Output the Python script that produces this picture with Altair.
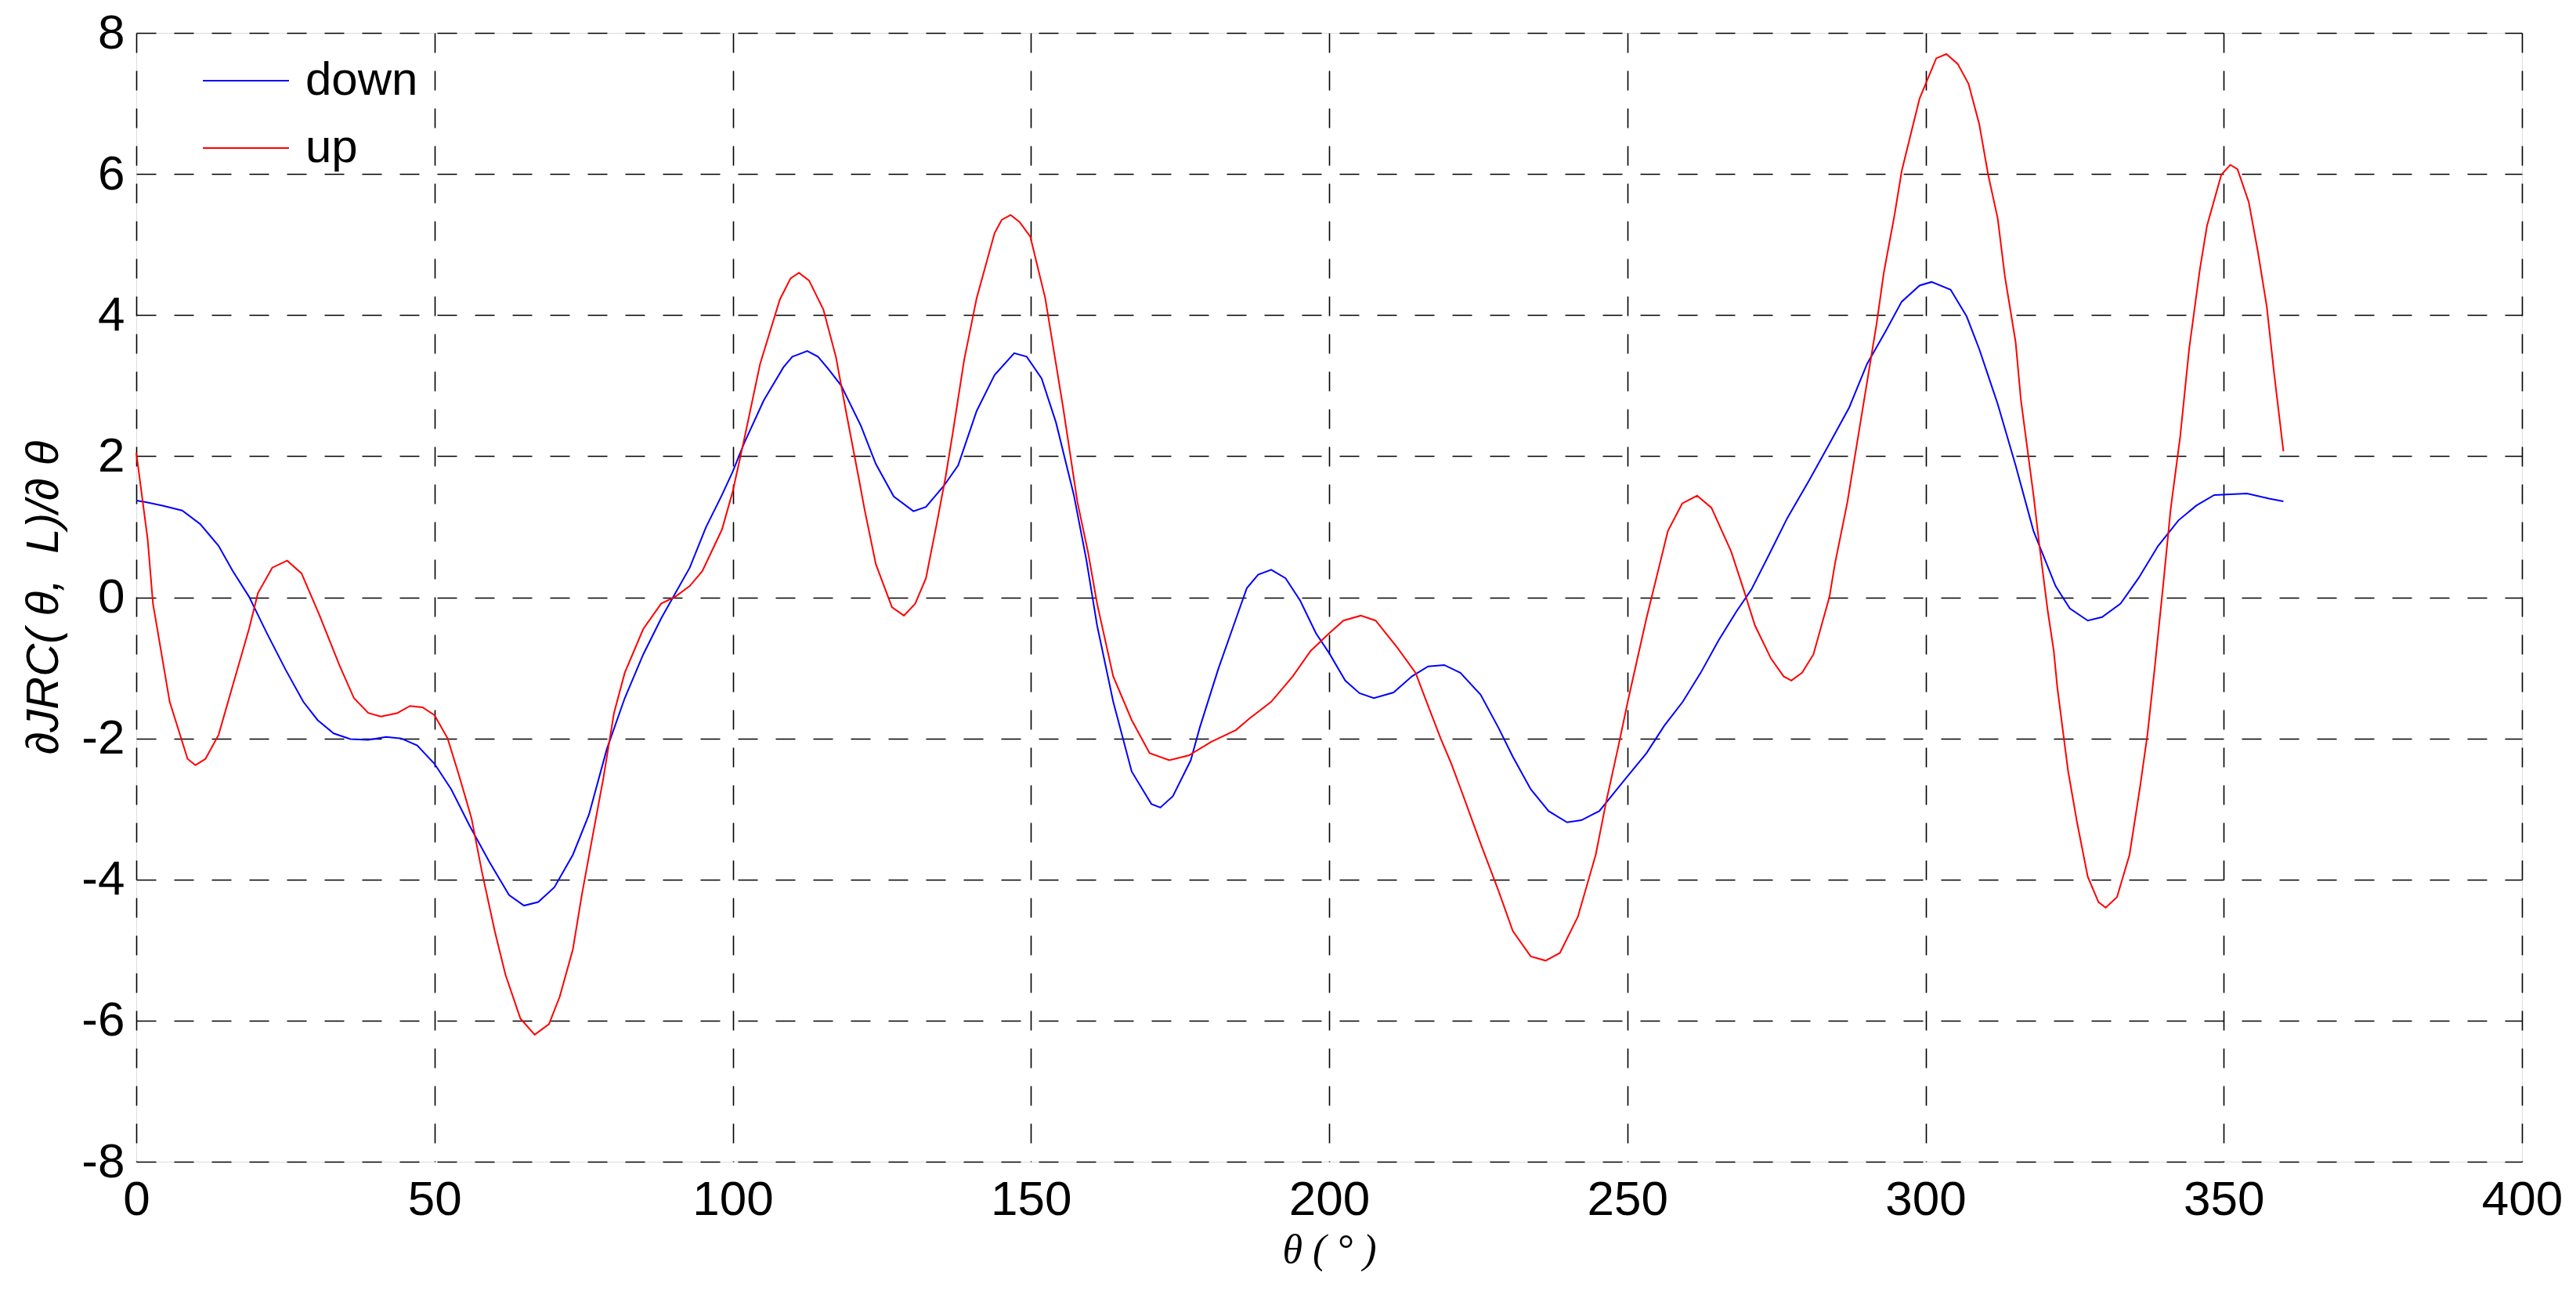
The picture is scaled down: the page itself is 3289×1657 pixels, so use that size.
import altair as alt
import pandas as pd

# ---- data ----
down_theta = [0, 1.6, 4.4, 7.7, 10.7, 13.8, 16.2, 18.9, 21.9, 25, 28, 30.4, 33.1, 35.9, 38.9, 41.9, 44.4,
              47.1, 50, 52.8, 55.9, 59.2, 62.5, 65, 67.4, 70.1, 73.2, 75.9, 78.9, 81.9, 85, 88, 90.4, 92.8,
              95.5, 98.2, 100, 101.9, 105.2, 108.5, 110, 112.5, 114.3, 116.1, 118.2, 121.5, 124, 127,
              130.3, 132.4, 135.4, 137.8, 140.9, 143.9, 147.2, 149.3, 151.8, 154.2, 157.2, 159.3, 161.1,
              163.8, 166.9, 170.2, 171.7, 173.8, 176.8, 178.3, 181.4, 184.4, 186.2, 188.1, 190.3, 192.7,
              195.1, 197.8, 200, 202.7, 205.1, 207.5, 210.8, 213.9, 216.6, 219.3, 222, 225.4, 228.4,
              230.8, 233.8, 236.8, 239.9, 242.3, 245.3, 247.8, 250.2, 253.2, 256.2, 259.3, 262.3, 265.3,
              268.3, 270.8, 273.8, 276.8, 280.5, 283.9, 287.2, 290.2, 293.3, 296, 299, 301, 304.2, 306.9,
              309, 312.1, 315.1, 318.1, 321.8, 324.2, 327.2, 329.6, 332.7, 335.7, 339, 342.4, 345.4,
              348.4, 353.9, 357.6, 360]
down_value = [1.37, 1.35, 1.30, 1.23, 1.04, 0.73, 0.37, 0.01, -0.51, -1.02, -1.48, -1.74, -1.93, -2.01,
              -2.02, -1.98, -2.0, -2.1, -2.36, -2.72, -3.24, -3.75, -4.22, -4.37, -4.32, -4.11, -3.65,
              -3.08, -2.15, -1.43, -0.81, -0.3, 0.06, 0.42, 0.99, 1.45, 1.78, 2.18, 2.79, 3.26, 3.41,
              3.49, 3.41, 3.23, 3.0, 2.43, 1.89, 1.43, 1.22, 1.28, 1.58, 1.87, 2.64, 3.15, 3.46, 3.41,
              3.1, 2.48, 1.45, 0.53, -0.4, -1.48, -2.47, -2.93, -2.98, -2.82, -2.31, -1.85, -1.02, -0.3,
              0.13, 0.32, 0.39, 0.27, -0.04, -0.51, -0.79, -1.18, -1.36, -1.43, -1.35, -1.12, -0.98,
              -0.96, -1.07, -1.38, -1.85, -2.26, -2.72, -3.03, -3.19, -3.16, -3.03, -2.77, -2.52, -2.21,
              -1.82, -1.48, -1.07, -0.61, -0.2, 0.11, 0.61, 1.12, 1.66, 2.18, 2.69, 3.31, 3.77, 4.19,
              4.42, 4.47, 4.36, 3.98, 3.52, 2.74, 1.87, 0.94, 0.16, -0.16, -0.33, -0.28, -0.09, 0.27,
              0.73, 1.09, 1.3, 1.45, 1.47, 1.4, 1.36]

up_theta = [0, 1.9, 2.8, 5.6, 8.6, 9.9, 11.6, 13.8, 15.9, 18.9, 20.4, 22.8, 25.3, 27.7, 30.7, 34.1, 36.5,
            38.9, 41, 43.8, 45.9, 48, 50, 52.2, 54.1, 56.2, 58, 60.1, 61.9, 64.4, 66.8, 69.2, 71, 73.2,
            74.7, 76.5, 78.3, 80.1, 81.9, 85, 88, 90.4, 92.8, 94.9, 98.2, 100, 101.9, 104.6, 107.9,
            109.7, 111.1, 112.8, 115.2, 117.3, 119.1, 121.2, 122.1, 124, 126.7, 128.7, 130.6, 132.4,
            134.2, 135.7, 136.9, 138.8, 140.9, 143.9, 145.1, 146.6, 148.1, 149.9, 152.4, 154.2, 155.4,
            157.8, 159.6, 161.1, 163.8, 166.9, 169.9, 173.2, 176.5, 180.2, 184.4, 186.6, 190.3, 193.9,
            196.9, 200, 202.4, 205.3, 207.8, 211.4, 214.5, 216.6, 218.7, 220.5, 222.3, 225.4, 228.4,
            230.8, 233.8, 236.3, 238.7, 241.7, 244.7, 246.5, 248.4, 250.2, 253.2, 256.8, 259.2, 261.7,
            264.1, 267.4, 269.5, 271.4, 274.1, 276.2, 277.5, 279.3, 281.2, 283.9, 284.8, 286.9, 288.1,
            289.9, 291.8, 293, 294.8, 296, 297.8, 299, 301.8, 303.5, 305.4, 307.2, 309, 310.5, 312.1,
            313.3, 315.1, 316, 318.1, 319.1, 320.5, 321.5, 322.1, 323.9, 325.4, 327.2, 329, 330.2,
            332.1, 334.2, 336, 337.2, 338.4, 339.9, 341.1, 342.7, 344.2, 346, 347.2, 349.6, 351.1,
            352.3, 354.2, 355.7, 357.2, 358.4, 360]
up_value = [2.05, 0.83, -0.09, -1.48, -2.29, -2.38, -2.29, -1.95, -1.33, -0.45, 0.06, 0.42, 0.52, 0.34,
            -0.25, -0.97, -1.43, -1.64, -1.69, -1.64, -1.54, -1.56, -1.67, -2.0, -2.52, -3.13, -3.91,
            -4.73, -5.35, -5.97, -6.2, -6.05, -5.66, -4.99, -4.22, -3.39, -2.57, -1.64, -1.07, -0.45,
            -0.09, 0.01, 0.16, 0.37, 0.96, 1.5, 2.23, 3.31, 4.22, 4.52, 4.6, 4.49, 4.08, 3.41, 2.59,
            1.66, 1.25, 0.47, -0.14, -0.26, -0.09, 0.27, 1.04, 1.71, 2.33, 3.36, 4.24, 5.16, 5.35,
            5.42, 5.32, 5.11, 4.24, 3.31, 2.69, 1.35, 0.63, -0.09, -1.12, -1.74, -2.21, -2.31, -2.24,
            -2.05, -1.88, -1.72, -1.48, -1.12, -0.76, -0.51, -0.33, -0.26, -0.33, -0.71, -1.07, -1.54,
            -2.0, -2.36, -2.77, -3.49, -4.16, -4.73, -5.09, -5.15, -5.04, -4.53, -3.65, -2.88, -2.15,
            -1.43, -0.3, 0.94, 1.33, 1.44, 1.27, 0.65, 0.11, -0.4, -0.87, -1.12, -1.18, -1.07, -0.81,
            0.01, 0.47, 1.35, 1.97, 2.9, 3.88, 4.6, 5.42, 6.04, 6.66, 7.07, 7.64, 7.7, 7.56, 7.28,
            6.71, 5.99, 5.37, 4.55, 3.62, 2.79, 1.45, 0.73, -0.2, -0.76, -1.28, -2.46, -3.19, -3.96,
            -4.32, -4.4, -4.25, -3.65, -2.67, -1.95, -1.02, 0.22, 1.25, 2.28, 3.52, 4.65, 5.27, 5.99,
            6.13, 6.07, 5.6, 4.91, 4.13, 3.21, 2.07]

series_names = ["down", "up"]
series_colors = ["#0000FF", "#FF0000"]
x_ticks = [0, 50, 100, 150, 200, 250, 300, 350, 400]
y_ticks = [-8, -6, -4, -2, 0, 2, 4, 6, 8]

df = pd.concat([
    pd.DataFrame({"theta": down_theta, "value": down_value, "series": "down", "order": range(len(down_theta))}),
    pd.DataFrame({"theta": up_theta, "value": up_value, "series": "up", "order": range(len(up_theta))}),
])

grid_dash = [25, 23]
plain_label = "'' + datum.value"
y_title = "\u2202JRC(\u00a0\u03b8,\u00a0\u00a0L)/\u2202\u00a0\u03b8"
x_title = "\u03b8\u00a0(\u00a0\u00b0\u00a0)"

chart = alt.Chart(df).mark_line(strokeWidth=2).encode(
    x=alt.X("theta:Q",
            scale=alt.Scale(domain=[0, 400], nice=False, zero=False),
            axis=alt.Axis(values=x_ticks, title=x_title, labelExpr=plain_label,
                          grid=True, gridColor="black", gridDash=grid_dash, gridWidth=1.6, gridOpacity=1,
                          domain=False, ticks=False, tickSize=0,
                          labelFont="Liberation Sans", labelFontSize=62, labelColor="black",
                          labelPadding=18, labelFlush=False, labelOverlap=False,
                          titleFont="Liberation Serif", titleFontStyle="italic", titleFontWeight="normal",
                          titleFontSize=52, titleColor="black", titlePadding=8)),
    y=alt.Y("value:Q",
            scale=alt.Scale(domain=[-8, 8], nice=False, zero=False),
            axis=alt.Axis(values=y_ticks, title=y_title, labelExpr=plain_label,
                          grid=True, gridColor="black", gridDash=grid_dash, gridWidth=1.6, gridOpacity=1,
                          domain=False, ticks=False, tickSize=0,
                          labelFont="Liberation Sans", labelFontSize=62, labelColor="black",
                          labelPadding=15, labelFlush=False, labelOverlap=False,
                          titleFont="Liberation Sans", titleFontStyle="italic", titleFontWeight="normal",
                          titleFontSize=58, titleColor="black", titlePadding=18)),
    color=alt.Color("series:N",
                    scale=alt.Scale(domain=series_names, range=series_colors),
                    legend=alt.Legend(title=None, orient="none", legendX=84, legendY=5,
                                      symbolType="stroke", symbolSize=12100, symbolStrokeWidth=2,
                                      labelFont="Liberation Sans", labelFontSize=60, labelColor="black",
                                      labelOffset=20, rowPadding=0, padding=0)),
    order="order:Q",
).properties(
    width=3046,
    height=1441,
    autosize=alt.AutoSizeParams(type="none"),
    padding={"left": 166, "top": 34, "right": 60, "bottom": 150},
).configure_view(
    stroke="black", strokeWidth=3
).configure(background="white")

chart.save("out.html", embed_options={"renderer": "svg", "actions": False})
